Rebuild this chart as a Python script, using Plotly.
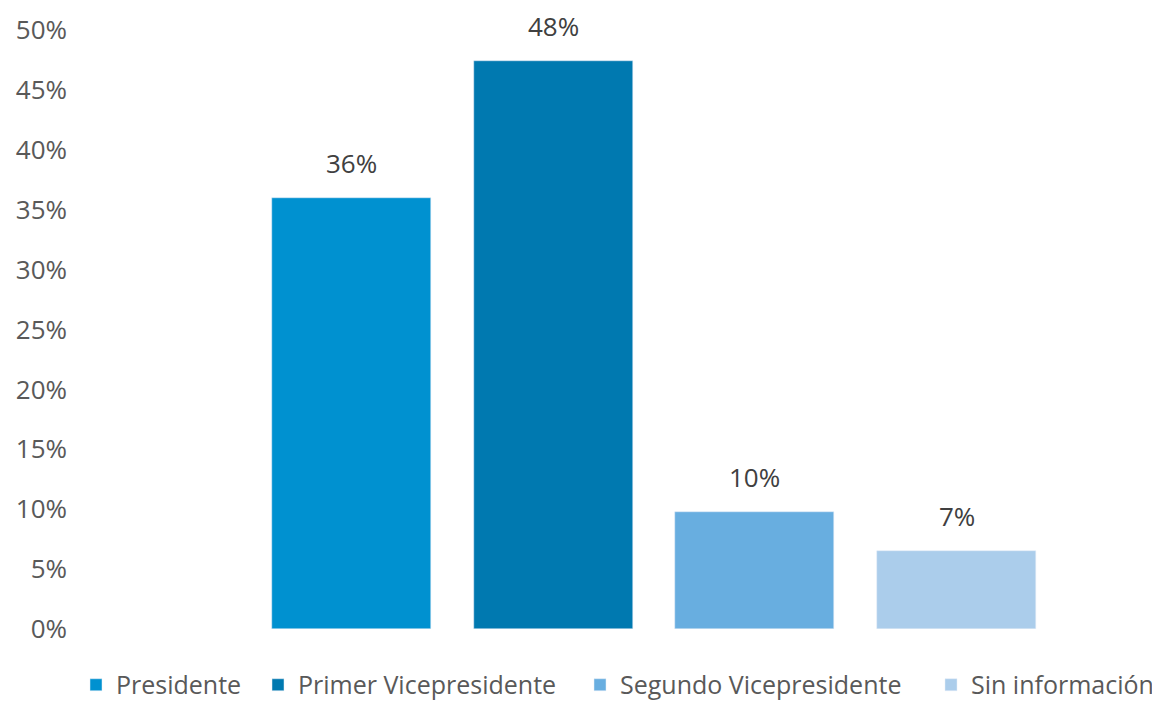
import plotly.graph_objects as go

categories = ["Presidente", "Primer Vicepresidente", "Segundo Vicepresidente", "Sin información"]
values = [0.36, 0.474, 0.098, 0.065]
labels = ["36%", "48%", "10%", "7%"]
colors = ["#0091D0", "#0079B0", "#68AEE0", "#ABCDEB"]
y_ticks = [0, 0.05, 0.10, 0.15, 0.20, 0.25, 0.30, 0.35, 0.40, 0.45, 0.50]
y_tick_text = ["0%", "5%", "10%", "15%", "20%", "25%", "30%", "35%", "40%", "45%", "50%"]

FONT = "Open Sans"
W, H = 1152, 694
legend_ids = ["legend", "legend2", "legend3", "legend4"]
legend_x_px = [68, 250, 572, 923]

fig = go.Figure()
for i, (cat, val, col) in enumerate(zip(categories, values, colors)):
    fig.add_trace(go.Bar(
        x=[i], y=[val], name=cat, marker_color=col, width=0.788,
        hoverinfo="name+y", legend=legend_ids[i],
    ))
    fig.add_annotation(
        x=i, y=val, text=labels[i], showarrow=False, yanchor="bottom",
        yshift=15, font=dict(family=FONT, size=26, color="#404040"),
    )

L, R = 62, 20
plot_w = W - L - R
unit = 201.67
left = -(343.5 - L) / unit
right = left + plot_w / unit

legend_style = dict(
    orientation="h", xref="container", xanchor="left",
    yref="container", y=0.0245, yanchor="middle",
    font=dict(family=FONT, size=25, color="#595959"),
    itemwidth=30, bgcolor="rgba(0,0,0,0)",
)

layout_legends = {}
for lid, px in zip(legend_ids, legend_x_px):
    layout_legends[lid] = dict(legend_style, x=px / W)

fig.update_layout(
    width=W, height=H,
    margin=dict(l=L, r=R, t=22, b=73, autoexpand=False),
    paper_bgcolor="white", plot_bgcolor="white",
    font=dict(family=FONT, size=26, color="#595959"),
    bargap=0,
    showlegend=True,
    xaxis=dict(range=[left, right], showticklabels=False, showgrid=False,
               zeroline=False, showline=False, ticks="", automargin=False),
    yaxis=dict(range=[0, 0.5], tickvals=y_ticks, ticktext=y_tick_text,
               showgrid=False, zeroline=False, showline=False,
               ticks="", ticklabelstandoff=2, automargin=False,
               tickfont=dict(family=FONT, size=26, color="#595959")),
    **layout_legends,
)

fig.write_html("out.html")
